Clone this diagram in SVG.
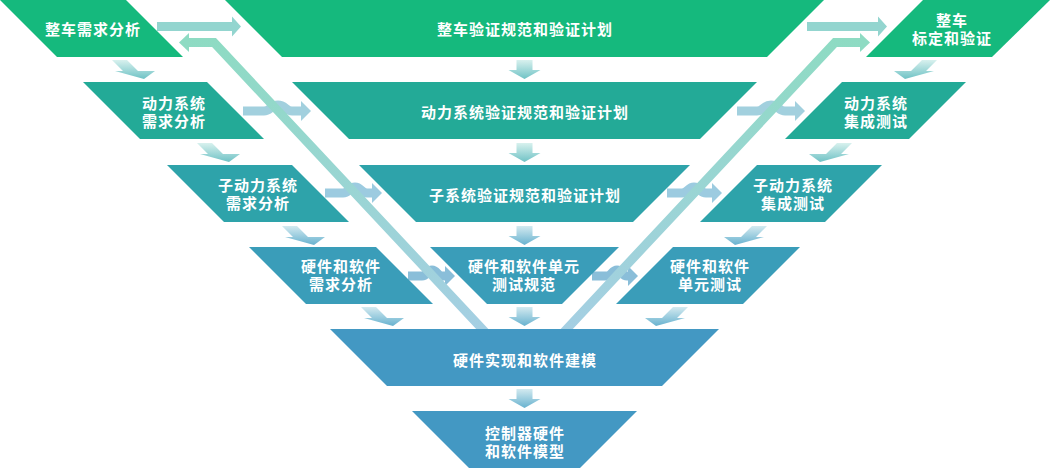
<svg xmlns="http://www.w3.org/2000/svg" width="1050" height="468" viewBox="0 0 1050 468">
<defs>
<style>
.t{font-family:"Noto Sans CJK SC","Noto Sans",sans-serif;font-weight:700;font-size:15px;fill:#fff;text-anchor:middle;letter-spacing:1px}
.r1{fill:#15b97d}.r2{fill:#23aa97}.r3{fill:#2ea3aa}.r4{fill:#3a9db9}.r5{fill:#4398c3}
.band{fill:none;stroke:url(#gBand);stroke-width:9;stroke-linejoin:miter}
.wave{fill:none;stroke-width:9}
.dn{fill:url(#gDown)}.dn2{fill:url(#gDown2)}
.h1{fill:#93d5cf}
</style>
<linearGradient id="gDown" x1="0" y1="0" x2="0" y2="1"><stop offset="0" stop-color="#d8f1ee"/><stop offset="1" stop-color="#6fc2c5"/></linearGradient>
<linearGradient id="gDown2" x1="0" y1="0" x2="0" y2="1"><stop offset="0" stop-color="#d3eaf0"/><stop offset="1" stop-color="#68b2cf"/></linearGradient>
<linearGradient id="gBand" gradientUnits="userSpaceOnUse" x1="0" y1="40" x2="0" y2="330"><stop offset="0" stop-color="#8edbc3"/><stop offset="1" stop-color="#a5cfe3"/></linearGradient>
</defs>
<rect width="1050" height="468" fill="#fff"/>
<g id="connectors">
<path class="h1" d="M157,22 H232 V16.5 L241,26.5 L232,36.5 V31 H157 Z"/>
<path class="h1" d="M807,22 H878 V16.5 L887,26.5 L878,36.5 V31 H807 Z"/>
<path class="dn" d="M112,60 L127,60 L138,71 L155,71 L144,79 L115,71 L123,71 Z"/>
<path class="dn" d="M197,143 L212,143 L223,154 L240,154 L229,162 L200,154 L208,154 Z"/>
<path class="dn2" d="M282,226 L297,226 L308,237 L325,237 L314,245 L285,237 L293,237 Z"/>
<path class="dn2" d="M361,307 L376,307 L387,318 L404,318 L393,326 L364,318 L372,318 Z"/>
<path class="dn" d="M937,60 L922,60 L911,71 L894,71 L905,79 L934,71 L926,71 Z"/>
<path class="dn" d="M852,143 L837,143 L826,154 L809,154 L820,162 L849,154 L841,154 Z"/>
<path class="dn2" d="M767,226 L752,226 L741,237 L724,237 L735,245 L764,237 L756,237 Z"/>
<path class="dn2" d="M688,307 L673,307 L662,318 L645,318 L656,326 L685,318 L677,318 Z"/>
<path class="dn" d="M516.5,60 H532.5 V70 H540.5 L524.5,79 L508.5,70 H516.5 Z"/>
<path class="dn" d="M516.5,143 H532.5 V153 H540.5 L524.5,162 L508.5,153 H516.5 Z"/>
<path class="dn2" d="M516.5,226 H532.5 V236 H540.5 L524.5,245 L508.5,236 H516.5 Z"/>
<path class="dn2" d="M516.5,307 H532.5 V317 H540.5 L524.5,326 L508.5,317 H516.5 Z"/>
<path class="dn2" d="M516.5,389 H532.5 V399 H540.5 L524.5,408 L508.5,399 H516.5 Z"/>
<path class="wave" stroke="#a2d0de" d="M243,111 H264 C270,111 271,105 278,105 C285,105 286,111 292,111 H302"/>
<path fill="#a2d0de" d="M301,101 L311,111 L301,121 Z"/>
<path class="wave" stroke="#a2d0de" d="M737,111 H757 C763,111 764,105 771,105 C778,105 779,111 785,111 H796"/>
<path fill="#a2d0de" d="M795,101 L805,111 L795,121 Z"/>
<path class="wave" stroke="#9ccbe0" d="M325,193 H343 C349,193 349,187 355,187 C361,187 361,193 367,193 H373"/>
<path fill="#9ccbe0" d="M372,183 L382,193 L372,203 Z"/>
<path class="wave" stroke="#9ccbe0" d="M667,193 H682 C688,193 688,187 694,187 C700,187 700,193 706,193 H713"/>
<path fill="#9ccbe0" d="M712,183 L722,193 L712,203 Z"/>
<path class="wave" stroke="#8abed9" d="M408,276 H422 C427,276 427,270 432,270 C437,270 437,276 442,276 H446"/>
<path fill="#8abed9" d="M445,266 L455,276 L445,286 Z"/>
<path class="wave" stroke="#8abed9" d="M592,276 H607 C612,276 612,270 617,270 C622,270 622,276 627,276 H629"/>
<path fill="#8abed9" d="M628,266 L638,276 L628,286 Z"/>
<path class="band" d="M189,42.5 H214 L486,333"/>
<path fill="#8edbc3" d="M189,33 L179,42.5 L189,52 Z"/>
<path class="band" d="M860,42.5 H835 L563,333"/>
<path fill="#8edbc3" d="M860,33 L870,42.5 L860,52 Z"/>
</g>
<g id="n-zc-req"><polygon class="r1" points="0,0 126,0 183,57 57,57"/><text class="t" x="93" y="35">整车需求分析</text></g>
<g id="n-zc-plan"><polygon class="r1" points="225,0 824,0 767,57 282,57"/><text class="t" x="525" y="35">整车验证规范和验证计划</text></g>
<g id="n-zc-cal"><polygon class="r1" points="923,0 1050,0 992,57 866,57"/><text class="t" y="26"><tspan x="952">整车</tspan><tspan x="952" dy="18">标定和验证</tspan></text></g>
<g id="n-pt-req"><polygon class="r2" points="83,82 207,82 264,139 140,139"/><text class="t" y="109"><tspan x="174">动力系统</tspan><tspan x="174" dy="18">需求分析</tspan></text></g>
<g id="n-pt-plan"><polygon class="r2" points="292,82 757,82 700,139 349,139"/><text class="t" x="525" y="118">动力系统验证规范和验证计划</text></g>
<g id="n-pt-int"><polygon class="r2" points="842,82 966,82 909,139 785,139"/><text class="t" y="109"><tspan x="876">动力系统</tspan><tspan x="876" dy="18">集成测试</tspan></text></g>
<g id="n-sub-req"><polygon class="r3" points="167,165 292,165 349,222 224,222"/><text class="t" y="191"><tspan x="258">子动力系统</tspan><tspan x="258" dy="18">需求分析</tspan></text></g>
<g id="n-sub-plan"><polygon class="r3" points="359,165 690,165 633,222 416,222"/><text class="t" x="525" y="201">子系统验证规范和验证计划</text></g>
<g id="n-sub-int"><polygon class="r3" points="757,165 882,165 825,222 700,222"/><text class="t" y="191"><tspan x="793">子动力系统</tspan><tspan x="793" dy="18">集成测试</tspan></text></g>
<g id="n-hs-req"><polygon class="r4" points="249,247 376,247 433,304 306,304"/><text class="t" y="272"><tspan x="341">硬件和软件</tspan><tspan x="341" dy="18">需求分析</tspan></text></g>
<g id="n-hs-spec"><polygon class="r4" points="430,247 619,247 562,304 487,304"/><text class="t" y="272"><tspan x="524">硬件和软件单元</tspan><tspan x="524" dy="18">测试规范</tspan></text></g>
<g id="n-hs-test"><polygon class="r4" points="673,247 800,247 743,304 616,304"/><text class="t" y="272"><tspan x="710">硬件和软件</tspan><tspan x="710" dy="18">单元测试</tspan></text></g>
<g id="n-impl"><polygon class="r5" points="330,329 719,329 662,386 387,386"/><text class="t" x="525" y="366">硬件实现和软件建模</text></g>
<g id="n-model"><polygon class="r5" points="412,411 637,411 580,468 469,468"/><text class="t" y="439"><tspan x="525">控制器硬件</tspan><tspan x="525" dy="18">和软件模型</tspan></text></g>
</svg>
